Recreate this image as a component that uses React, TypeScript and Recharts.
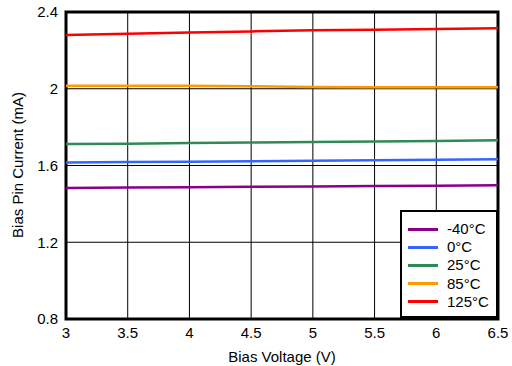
import React from "react";
import {
  LineChart,
  Line,
  XAxis,
  YAxis,
  CartesianGrid,
  ReferenceArea,
} from "recharts";

const voltages = [3, 3.5, 4, 4.5, 5, 5.5, 6, 6.5];
const tempM40 = [1.483, 1.485, 1.487, 1.489, 1.491, 1.493, 1.495, 1.497];
const temp0 = [1.615, 1.618, 1.62, 1.622, 1.625, 1.628, 1.63, 1.632];
const temp25 = [1.712, 1.714, 1.717, 1.72, 1.722, 1.725, 1.728, 1.731];
const temp85 = [2.016, 2.016, 2.016, 2.013, 2.009, 2.008, 2.008, 2.008];
const temp125 = [2.28, 2.287, 2.293, 2.299, 2.305, 2.308, 2.311, 2.315];

const xTicks = [3, 3.5, 4, 4.5, 5, 5.5, 6, 6.5];
const yTicks = [0.8, 1.2, 1.6, 2, 2.4];

const series = [
  { key: "m40", name: "-40°C", color: "#8b008b", values: tempM40 },
  { key: "t0", name: "0°C", color: "#3366ff", values: temp0 },
  { key: "t25", name: "25°C", color: "#2e8b57", values: temp25 },
  { key: "t85", name: "85°C", color: "#ff9900", values: temp85 },
  { key: "t125", name: "125°C", color: "#ff0000", values: temp125 },
];

const data = voltages.map((v, i) => {
  const row: Record<string, number> = { v };
  series.forEach((s) => (row[s.key] = s.values[i]));
  return row;
});

const font = "'Liberation Sans', Arial, sans-serif";

function LegendBox() {
  return (
    <div
      style={{
        position: "absolute",
        left: 400,
        top: 210,
        width: 98,
        height: 108,
        boxSizing: "border-box",
        border: "2px solid #000",
        background: "#fff",
        paddingTop: 8,
        fontFamily: font,
        fontSize: 15,
        color: "#000",
      }}
    >
      {series.map((s) => (
        <div
          key={s.key}
          style={{ display: "flex", alignItems: "center", height: 18.2 }}
        >
          <div
            style={{
              marginLeft: 6,
              width: 30,
              height: 3,
              background: s.color,
            }}
          />
          <span style={{ marginLeft: 9, lineHeight: "18px" }}>{s.name}</span>
        </div>
      ))}
    </div>
  );
}

export default function App() {
  return (
    <div
      style={{
        position: "absolute",
        left: 0,
        top: 0,
        width: 512,
        height: 366,
        background: "#fff",
      }}
    >
      <LineChart
        width={512}
        height={366}
        data={data}
        margin={{ top: 12, right: 14, bottom: 0, left: 0 }}
        style={{ fontFamily: font }}
      >
        <CartesianGrid stroke="#000" strokeWidth={1} />
        <XAxis
          dataKey="v"
          type="number"
          domain={[3, 6.5]}
          ticks={xTicks}
          height={47}
          tickLine={false}
          axisLine={false}
          tick={{ fontSize: 15, fill: "#000" }}
          label={{
            value: "Bias Voltage (V)",
            position: "insideBottom",
            offset: 4,
            style: { fontSize: 15, fill: "#000" },
          }}
        />
        <YAxis
          type="number"
          domain={[0.8, 2.4]}
          ticks={yTicks}
          width={66}
          tickLine={false}
          axisLine={false}
          tick={{ fontSize: 15, fill: "#000" }}
          label={{
            content: () => (
              <text
                transform="translate(17,165) rotate(-90)"
                textAnchor="middle"
                dominantBaseline="central"
                fontSize={15}
                fill="#000"
              >
                Bias Pin Current (mA)
              </text>
            ),
          }}
        />
        <ReferenceArea
          x1={3}
          x2={6.5}
          y1={0.8}
          y2={2.4}
          fill="none"
          fillOpacity={0}
          stroke="#000"
          strokeWidth={3}
        />
        {series.map((s) => (
          <Line
            key={s.key}
            type="linear"
            dataKey={s.key}
            name={s.name}
            stroke={s.color}
            strokeWidth={2.5}
            dot={false}
            isAnimationActive={false}
          />
        ))}
      </LineChart>
      <LegendBox />
    </div>
  );
}
